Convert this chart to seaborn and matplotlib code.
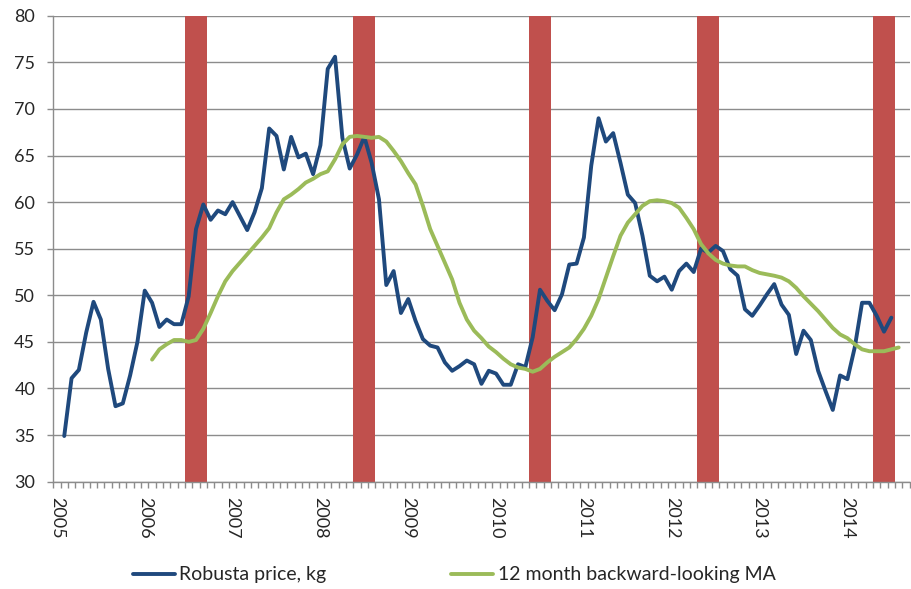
import numpy as np
import pandas as pd
import matplotlib
matplotlib.use("Agg")
import matplotlib.pyplot as plt
import seaborn as sns

# Monthly Robusta price (from Feb 2005) and its 12 month backward-looking MA (from Feb 2006)
robusta = [34.9, 41.1, 42.0, 46.0, 49.3, 47.4, 42.1, 38.1, 38.4, 41.4, 45.0,
           50.5, 49.2, 46.6, 47.4, 46.9, 46.9, 49.9, 57.1, 59.75, 58.1, 59.1, 58.7,
           60.0, 58.5, 57.0, 58.9, 61.5, 67.9, 67.1, 63.5, 67.0, 64.8, 65.2, 63.0,
           66.1, 74.3, 75.6, 66.9, 63.6, 65.1, 67.0, 64.2, 60.3, 51.1, 52.6, 48.1,
           49.6, 47.25, 45.3, 44.6, 44.4, 42.8, 41.9, 42.4, 43.0, 42.6, 40.5, 41.9,
           41.6, 40.4, 40.4, 42.6, 42.3, 45.5, 50.6, 49.4, 48.4, 50.1, 53.3, 53.4,
           56.2, 63.9, 69.0, 66.5, 67.4, 64.2, 60.8, 59.9, 56.4, 52.1, 51.5, 52.0,
           50.6, 52.6, 53.4, 52.5, 55.0, 54.6, 55.3, 54.75, 52.8, 52.1, 48.5, 47.8,
           48.9, 50.1, 51.2, 49.0, 47.9, 43.7, 46.2, 45.2, 41.9, 39.75, 37.7, 41.4,
           41.0, 44.4, 49.2, 49.2, 47.8, 46.1, 47.6]
moving_avg = [43.1, 44.2, 44.75, 45.2, 45.2, 45.0, 45.2, 46.4, 48.1, 49.9, 51.5,
              52.6, 53.5, 54.4, 55.3, 56.2, 57.2, 58.9, 60.3, 60.8, 61.4, 62.1, 62.5,
              63.0, 63.3, 64.6, 66.2, 67.0, 67.1, 67.0, 66.9, 67.0, 66.5, 65.5, 64.4,
              63.1, 61.9, 59.6, 57.1, 55.3, 53.5, 51.7, 49.2, 47.4, 46.2, 45.4, 44.5,
              43.9, 43.2, 42.6, 42.25, 42.1, 41.8, 42.1, 42.8, 43.4, 43.9, 44.4, 45.3,
              46.4, 47.8, 49.6, 51.9, 54.2, 56.4, 57.8, 58.7, 59.6, 60.1, 60.2, 60.1,
              59.9, 59.4, 58.3, 57.1, 55.5, 54.5, 53.8, 53.4, 53.2, 53.1, 53.1, 52.7,
              52.4, 52.25, 52.1, 51.9, 51.5, 50.8, 49.9, 49.1, 48.3, 47.4, 46.5, 45.8,
              45.4, 44.75, 44.2, 44.0, 44.0, 44.0, 44.2, 44.4]
robusta_start = "2005-02"
ma_start = "2006-02"

# highlighted months (red columns)
highlight = ["2006-07", "2006-08", "2006-09", "2008-06", "2008-07", "2008-08",
             "2010-06", "2010-07", "2010-08", "2012-05", "2012-06", "2012-07",
             "2014-05", "2014-06", "2014-07"]

years = list(range(2005, 2015))

# month axis: Jan 2005 .. Sep 2014
months = pd.period_range("2005-01", "2014-09", freq="M")
pos = {p.strftime("%Y-%m"): i for i, p in enumerate(months)}

df_price = pd.DataFrame({"m": np.arange(len(robusta)) + pos[robusta_start],
                         "value": robusta})
df_ma = pd.DataFrame({"m": np.arange(len(moving_avg)) + pos[ma_start],
                      "value": moving_avg})
hl_pos = [pos[h] for h in highlight]

sns.set_style("white")
plt.rcParams["font.family"] = ["Lato", "DejaVu Sans"]

blue = "#1F497D"
green = "#9BBB59"
red = "#C0504D"
grey = "#8C8C8C"

fig = plt.figure(figsize=(9.12, 5.89), dpi=100)
ax = fig.add_axes([0.0584, 0.1822, 0.939, 0.7911])

ymin, ymax = 30, 80
ax.bar(hl_pos, [ymax - ymin] * len(hl_pos), bottom=ymin, width=1.0,
       color=red, linewidth=0, zorder=2)

sns.lineplot(data=df_price, x="m", y="value", color=blue, linewidth=2.8,
             label="Robusta price, kg", ax=ax, zorder=3, legend=False)
sns.lineplot(data=df_ma, x="m", y="value", color=green, linewidth=2.8,
             label="12 month backward-looking MA", ax=ax, zorder=3, legend=False)

ax.set_xlim(-0.5, 116.5)
ax.set_ylim(ymin, ymax)
ax.set_xlabel("")
ax.set_ylabel("")

ax.set_yticks(range(30, 81, 5))
ax.yaxis.grid(True, color=grey, linewidth=1.0)
ax.set_axisbelow(True)
ax.tick_params(axis="y", which="major", length=4, color=grey, width=1,
               labelsize=13, pad=9, left=True)

ax.set_xticks([pos[f"{y}-01"] for y in years])
ax.set_xticklabels([str(y) for y in years], rotation=270)
ax.set_xticks(np.arange(-0.5, 117, 1), minor=True)
ax.tick_params(axis="x", which="major", length=0, labelsize=13, pad=11)
ax.tick_params(axis="x", which="minor", length=4.5, color=grey, width=1,
               bottom=True)

for s in ["top", "right"]:
    ax.spines[s].set_visible(False)
for s in ["left", "bottom"]:
    ax.spines[s].set_color(grey)
    ax.spines[s].set_linewidth(1.0)

handles, labels = ax.get_legend_handles_labels()
fig.legend(handles, labels, loc="center left", bbox_to_anchor=(0.137, 0.024),
           ncol=2, frameon=False, fontsize=14, handlelength=2.15,
           handletextpad=0.25, columnspacing=6.4, borderaxespad=0)

fig.savefig("out.png", dpi=100)
